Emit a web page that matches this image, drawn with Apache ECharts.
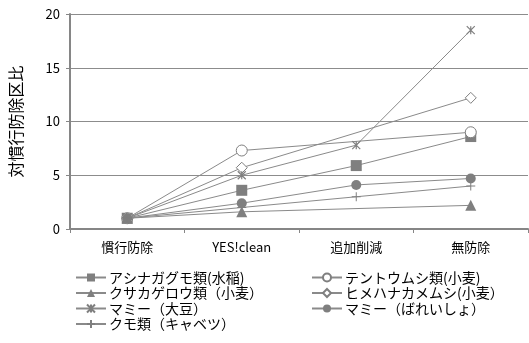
<!DOCTYPE html>
<html>
<head>
<meta charset="utf-8">
<script src="https://cdn.jsdelivr.net/npm/echarts@6/dist/echarts.min.js"></script>
<style>
  html, body { margin: 0; padding: 0; background: #fff; }
  #chart { width: 529px; height: 343px; }
</style>
</head>
<body>
<div id="chart"></div>
<script>
// categories on the x axis
const categories = ['慣行防除', 'YES!clean', '追加削減', '無防除']

// series values (null = no point, the line is drawn across it)
const asinagaValues = [1, 3.6, 5.9, 8.6]
const tentouValues = [1, 7.3, null, 9.0]
const kusakageValues = [1, 1.6, null, 2.2]
const himehanaValues = [1, 5.7, null, 12.2]
const mamiDaizuValues = [1, 5.0, 7.8, 18.5]
const mamiBareiValues = [1, 2.4, 4.1, 4.7]
const kumoValues = [1, 2.0, 3.0, 4.0]

const seriesNames = [
  'アシナガグモ類(水稲)',
  'テントウムシ類(小麦)',
  'クサカゲロウ類（小麦）',
  'ヒメハナカメムシ(小麦）',
  'マミー（大豆）',
  'マミー（ばれいしょ）',
  'クモ類（キャベツ）'
]

const gray = '#7f7f7f'
const lineGray = '#8a8a8a'
const font = '"Noto Sans CJK JP", "Noto Sans", sans-serif'

const asterisk = 'path://M0,0L10,10M10,0L0,10M5,0L5,10'
const plus = 'path://M5,0L5,10M0,5L10,5'

function makeSeries(name, data, symbol, size, itemStyle) {
  return {
    name: name,
    type: 'line',
    data: data,
    connectNulls: true,
    symbol: symbol,
    symbolSize: size,
    showAllSymbol: true,
    lineStyle: { color: lineGray, width: 1 },
    itemStyle: itemStyle,
    animation: false
  }
}

const legendText = { color: '#000', fontSize: 14, lineHeight: 15, fontFamily: font, padding: [0, 0, 0, -2] }

const chart = echarts.init(document.getElementById('chart'))
chart.setOption({
  backgroundColor: '#fff',
  textStyle: { fontFamily: font },
  grid: { left: 66, right: 1, top: 14, bottom: 114 },
  xAxis: {
    type: 'category',
    data: categories,
    boundaryGap: true,
    axisLine: { lineStyle: { color: '#868686', width: 2 } },
    axisTick: { show: true, alignWithLabel: false, length: 4, lineStyle: { color: '#868686' } },
    axisLabel: { color: '#000', fontSize: 13, margin: 12, fontFamily: font }
  },
  yAxis: {
    type: 'value',
    min: 0,
    max: 20,
    interval: 5,
    name: '対慣行防除区比',
    nameLocation: 'middle',
    nameRotate: 90,
    nameGap: 46,
    nameTextStyle: { color: '#000', fontSize: 16, fontFamily: font },
    axisLine: { show: true, lineStyle: { color: '#868686', width: 2 } },
    axisTick: { show: true, length: 4, lineStyle: { color: '#868686' } },
    axisLabel: { color: '#000', fontSize: 13, margin: 10, fontFamily: font },
    splitLine: { lineStyle: { color: '#8c8c8c', width: 1 } }
  },
  legend: [
    {
      orient: 'vertical',
      left: 70,
      top: 265,
      itemWidth: 30,
      itemHeight: 10,
      itemGap: 0.5,
      textStyle: legendText,
      data: [seriesNames[0], seriesNames[2], seriesNames[4], seriesNames[6]]
    },
    {
      orient: 'vertical',
      left: 306,
      top: 265,
      itemWidth: 30,
      itemHeight: 10,
      itemGap: 0.5,
      textStyle: legendText,
      data: [seriesNames[1], seriesNames[3], seriesNames[5]]
    }
  ],
  series: [
    makeSeries(seriesNames[0], asinagaValues, 'rect', 11, { color: gray }),
    makeSeries(seriesNames[1], tentouValues, 'circle', 11, { color: '#fff', borderColor: gray, borderWidth: 1 }),
    makeSeries(seriesNames[2], kusakageValues, 'triangle', 11, { color: gray }),
    makeSeries(seriesNames[3], himehanaValues, 'diamond', 11, { color: '#fff', borderColor: gray, borderWidth: 1 }),
    makeSeries(seriesNames[4], mamiDaizuValues, asterisk, 8, { color: 'rgba(0,0,0,0)', borderColor: gray, borderWidth: 1.2 }),
    makeSeries(seriesNames[5], mamiBareiValues, 'circle', 10, { color: gray }),
    makeSeries(seriesNames[6], kumoValues, plus, 9, { color: 'rgba(0,0,0,0)', borderColor: gray, borderWidth: 1 })
  ]
})
</script>
</body>
</html>
